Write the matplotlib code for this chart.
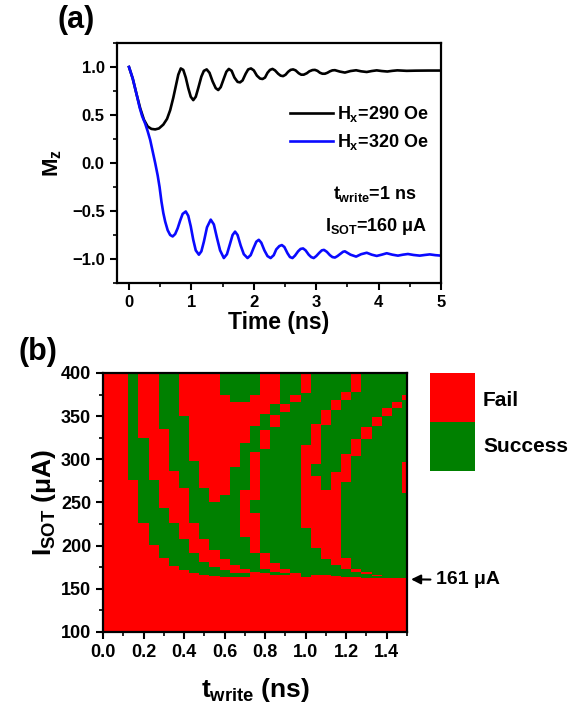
import matplotlib.pyplot as plt
import numpy as np
from matplotlib.colors import ListedColormap
from matplotlib.patches import Rectangle
from matplotlib.ticker import MultipleLocator

plt.rcParams['font.family'] = ['Liberation Sans', 'DejaVu Sans']
plt.rcParams['font.weight'] = 'bold'
plt.rcParams['axes.labelweight'] = 'bold'
plt.rcParams['mathtext.fontset'] = 'custom'
plt.rcParams['mathtext.rm'] = 'Liberation Sans:bold'
plt.rcParams['mathtext.it'] = 'Liberation Sans:bold'
plt.rcParams['mathtext.bf'] = 'Liberation Sans:bold'

# ---- panel (a): Mz(t) ----
t_290 = [0.0, 0.06, 0.12, 0.18, 0.24, 0.30, 0.36, 0.42, 0.48, 0.55, 0.61, 0.66, 0.71, 0.75, 0.79,
         0.83, 0.87, 0.91, 0.95, 0.99, 1.03, 1.07, 1.11, 1.16, 1.20, 1.245, 1.29, 1.34, 1.39, 1.43,
         1.47, 1.52, 1.56, 1.60, 1.645, 1.69, 1.74, 1.78, 1.82, 1.87, 1.91, 1.955, 2.00, 2.05, 2.10,
         2.14, 2.18, 2.22, 2.26, 2.30, 2.34, 2.39, 2.43, 2.47, 2.51, 2.55, 2.59, 2.63, 2.67, 2.72,
         2.76, 2.80, 2.85, 2.89, 2.94, 2.98, 3.02, 3.06, 3.10, 3.14, 3.18, 3.22, 3.26, 3.30, 3.38,
         3.46, 3.55, 3.64, 3.72, 3.81, 3.89, 3.97, 4.05, 4.14, 4.22, 4.30, 4.45, 4.60, 4.80, 5.0]
mz_290 = [1.0, 0.88, 0.72, 0.57, 0.45, 0.38, 0.355, 0.35, 0.36, 0.40, 0.46, 0.55, 0.68, 0.80, 0.92,
          0.985, 0.97, 0.89, 0.78, 0.69, 0.655, 0.69, 0.78, 0.90, 0.96, 0.975, 0.94, 0.85, 0.78, 0.76,
          0.79, 0.88, 0.95, 0.98, 0.96, 0.89, 0.845, 0.84, 0.86, 0.93, 0.975, 0.985, 0.965, 0.91, 0.88,
          0.875, 0.89, 0.94, 0.97, 0.98, 0.965, 0.93, 0.91, 0.905, 0.92, 0.95, 0.97, 0.975, 0.965, 0.935,
          0.92, 0.92, 0.935, 0.955, 0.968, 0.97, 0.96, 0.94, 0.93, 0.93, 0.94, 0.955, 0.965, 0.967, 0.952,
          0.942, 0.958, 0.966, 0.955, 0.948, 0.958, 0.965, 0.958, 0.953, 0.96, 0.965, 0.96, 0.962, 0.963, 0.963]

t_320 = [0.0, 0.06, 0.12, 0.17, 0.21, 0.26, 0.30, 0.34, 0.38, 0.42, 0.46, 0.49, 0.52, 0.55, 0.58,
         0.62, 0.66, 0.70, 0.74, 0.78, 0.82, 0.86, 0.91, 0.95, 0.99, 1.03, 1.07, 1.12, 1.16, 1.20,
         1.25, 1.31, 1.36, 1.41, 1.46, 1.52, 1.57, 1.62, 1.66, 1.70, 1.74, 1.79, 1.84, 1.90, 1.95,
         2.00, 2.04, 2.08, 2.12, 2.17, 2.22, 2.27, 2.32, 2.36, 2.41, 2.45, 2.49, 2.54, 2.58, 2.62,
         2.66, 2.71, 2.75, 2.79, 2.83, 2.88, 2.92, 2.96, 3.00, 3.05, 3.09, 3.125, 3.17, 3.22, 3.26,
         3.30, 3.34, 3.39, 3.43, 3.46, 3.55, 3.64, 3.72, 3.81, 3.89, 3.97, 4.05, 4.13, 4.22, 4.31,
         4.39, 4.47, 4.56, 4.66, 4.74, 4.82, 4.91, 5.0]
mz_320 = [1.0, 0.88, 0.72, 0.58, 0.49, 0.41, 0.33, 0.24, 0.12, 0.0, -0.13, -0.25, -0.40, -0.52, -0.61,
          -0.70, -0.75, -0.765, -0.74, -0.68, -0.60, -0.53, -0.505, -0.55, -0.66, -0.80, -0.91, -0.955, -0.92, -0.82,
          -0.67, -0.59, -0.64, -0.78, -0.91, -0.99, -0.95, -0.84, -0.75, -0.715, -0.75, -0.86, -0.95, -0.99, -0.96,
          -0.88, -0.82, -0.80, -0.83, -0.91, -0.97, -0.99, -0.96, -0.90, -0.865, -0.855, -0.875, -0.94, -0.98, -0.99,
          -0.965, -0.92, -0.895, -0.89, -0.91, -0.955, -0.98, -0.99, -0.97, -0.935, -0.91, -0.905, -0.925, -0.96, -0.98,
          -0.985, -0.97, -0.945, -0.925, -0.92, -0.955, -0.975, -0.95, -0.935, -0.955, -0.968, -0.955, -0.94, -0.955, -0.965,
          -0.955, -0.948, -0.958, -0.965, -0.958, -0.952, -0.96, -0.965]

# ---- panel (b): switching map, green (success) intervals of I_SOT per t_write column ----
t_write = [0.0, 0.05, 0.1, 0.15, 0.2, 0.25, 0.3, 0.35, 0.4, 0.45, 0.5, 0.55, 0.6, 0.65, 0.7, 0.75,
           0.8, 0.85, 0.9, 0.95, 1.0, 1.05, 1.1, 1.15, 1.2, 1.25, 1.3, 1.35, 1.4, 1.45, 1.5]
success = [
    [],
    [],
    [],
    [(276.7, 400)],
    [(225.8, 324.9)],
    [(200.7, 276.7)],
    [(185.3, 243.9), (335, 400)],
    [(176, 226), (286.3, 400)],
    [(171.7, 207.6), (266.3, 350)],
    [(168.7, 191), (226, 297.9)],
    [(166, 181.4), (207.3, 266.3)],
    [(165.2, 175.6), (194.9, 250.8)],
    [(164, 171.8), (184.1, 258.6), (374, 400)],
    [(164, 167.9), (177.5, 291.4), (366.5, 400)],
    [(164, 167.9), (172.5, 210.3), (264.4, 318.4), (366.5, 400)],
    [(169.8, 191.1), (237.4, 252.8), (308.7, 338.4), (374, 400)],
    [(167.9, 172.5), (191.1, 312.6), (333.8, 353)],
    [(166, 169.8), (179.5, 337.6), (351, 364.7)],
    [(166, 168), (172.5, 355.1), (364.7, 400)],
    [(168.7, 366.5), (374.3, 400)],
    [(164, 220), (316.4, 376.3)],
    [(166, 197), (280.6, 295.2), (341.5, 400)],
    [(166, 184.1), (264.4, 339.6), (357, 400)],
    [(165, 177.5), (285.6, 357), (368.5, 400)],
    [(164, 172.5), (185.3, 274), (306.7, 368.5), (378, 400)],
    [(164, 169.1), (173.7, 303.7), (324.2, 378)],
    [(163, 167.1), (169.8, 323), (337.6, 400)],
    [(162, 165), (166, 338.4), (349.2, 400)],
    [(162, 350), (358.9, 400)],
    [(162, 358.9), (366.6, 400)],
    [(162, 260.5), (297, 368.5), (374.3, 400)],
]

W, H = 573, 711
fig = plt.figure(figsize=(W / 100, H / 100), dpi=100)


def px_axes(l, t, r, b):
    return fig.add_axes([l / W, 1 - b / H, (r - l) / W, (b - t) / H])


def style(ax, size):
    for s in ax.spines.values():
        s.set_linewidth(1.6)
    ax.tick_params(which='major', direction='out', length=5, width=1.5, labelsize=size)
    ax.tick_params(which='minor', direction='out', length=3, width=1.2)


# (a)
ax1 = px_axes(116.5, 43, 441, 283)
ax1.plot(t_290, mz_290, color='black', lw=1.9, label=r'$H_x$=290 Oe')
ax1.plot(t_320, mz_320, color='#0a0aff', lw=1.9, label=r'$H_x$=320 Oe')
ax1.set_xlim(-0.2, 5)
ax1.set_ylim(-1.25, 1.25)
ax1.xaxis.set_major_locator(MultipleLocator(1))
ax1.xaxis.set_minor_locator(MultipleLocator(0.5))
ax1.yaxis.set_major_locator(MultipleLocator(0.5))
ax1.yaxis.set_minor_locator(MultipleLocator(0.25))
style(ax1, 12)
ax1.set_xlabel('Time (ns)', fontsize=16.5, labelpad=1)
ax1.set_ylabel(r'$M_z$', fontsize=16, labelpad=6)
ax1.legend(loc='center left', bbox_to_anchor=(0.535, 0.646), frameon=False, fontsize=13,
           handlelength=2.4, handletextpad=0.2, borderpad=0, borderaxespad=0, labelspacing=0.45)
ax1.text(0.795, 0.37, r'$t_{write}$=1 ns', transform=ax1.transAxes, ha='center', va='center', fontsize=13)
ax1.text(0.80, 0.235, r'$I_{SOT}$=160 μA', transform=ax1.transAxes, ha='center', va='center', fontsize=13)
fig.text(76 / W, 1 - 20 / H, '(a)', fontsize=22, ha='center', va='center')

# (b)
ax2 = px_axes(103, 373, 407, 632)
I_edges = np.arange(100, 400.5, 0.5)
I_mid = 0.5 * (I_edges[:-1] + I_edges[1:])
state = np.zeros((len(I_mid), len(t_write)))
for j, ivs in enumerate(success):
    for lo, hi in ivs:
        state[(I_mid >= lo) & (I_mid < hi), j] = 1
tw = np.array(t_write)
t_edges = np.concatenate([tw - 0.025, [tw[-1] + 0.025]])
ax2.pcolormesh(t_edges, I_edges, state, cmap=ListedColormap(['#ff0000', '#008000']), vmin=0, vmax=1)
ax2.set_xlim(0, 1.5)
ax2.set_ylim(100, 400)
ax2.xaxis.set_major_locator(MultipleLocator(0.2))
ax2.xaxis.set_minor_locator(MultipleLocator(0.1))
ax2.yaxis.set_major_locator(MultipleLocator(50))
ax2.yaxis.set_minor_locator(MultipleLocator(25))
style(ax2, 13)
ax2.set_xlabel(r'$t_{write}$ (ns)', fontsize=19, labelpad=11)
ax2.set_ylabel(r'$I_{SOT}$ (μA)', fontsize=19, labelpad=2)
fig.text(38 / W, 1 - 352 / H, '(b)', fontsize=22, ha='center', va='center')

fig.add_artist(Rectangle((430 / W, 1 - 422 / H), 45 / W, 49 / H, transform=fig.transFigure,
                         facecolor='#ff0000', edgecolor='none'))
fig.add_artist(Rectangle((430 / W, 1 - 471 / H), 45 / W, 49 / H, transform=fig.transFigure,
                         facecolor='#008000', edgecolor='none'))
fig.text(483 / W, 1 - 400 / H, 'Fail', fontsize=15, va='center')
fig.text(483 / W, 1 - 447 / H, 'Success', fontsize=15, va='center')
ax2.annotate('161 μA', xy=(1.52, 161), xytext=(436 / W, 1 - 580 / H), textcoords='figure fraction',
             va='center', fontsize=14, annotation_clip=False,
             arrowprops=dict(arrowstyle='-|>', color='black', lw=1.5, shrinkA=2, shrinkB=0))

fig.savefig('out.png', dpi=100)
